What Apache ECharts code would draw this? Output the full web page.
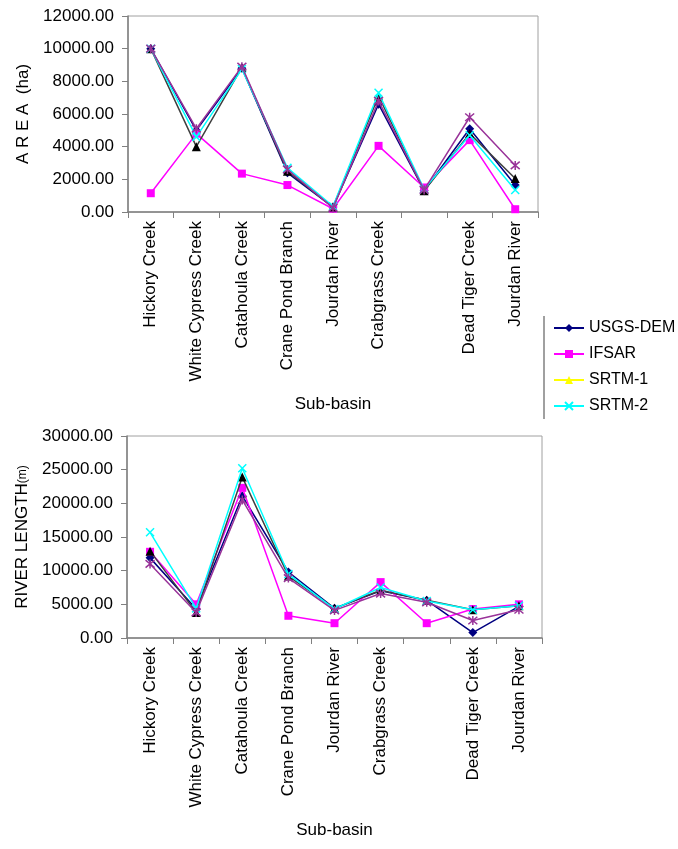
<!DOCTYPE html>
<html><head><meta charset="utf-8">
<script src="https://cdn.jsdelivr.net/npm/echarts@6/dist/echarts.min.js"></script>
<style>html,body{margin:0;padding:0;background:#fff}#c{width:678px;height:849px}</style>
</head><body><div id="c"></div>
<script>
var categories = ['Hickory Creek','White Cypress Creek','Catahoula Creek','Crane Pond Branch','Jourdan River','Crabgrass Creek','','Dead Tiger Creek','Jourdan River'];
var areaTicks = [0, 2000, 4000, 6000, 8000, 10000, 12000];
var lengthTicks = [0, 5000, 10000, 15000, 20000, 25000, 30000];
var seriesNames = ['USGS-DEM','IFSAR','SRTM-1','SRTM-2','Series5'];
// AREA (ha)
var areaUSGS  = [10000, 5000, 8800, 2400, 300, 6600, 1300, 5100, 1650];
var areaIFSAR = [1150, 4800, 2350, 1650, 200, 4050, 1500, 4400, 170];
var areaSRTM1 = [10000, 4000, 8850, 2500, 300, 7100, 1300, 4800, 2050];
var areaSRTM2 = [10000, 4600, 8750, 2700, 350, 7300, 1400, 4700, 1350];
var areaS5    = [10000, 5100, 8900, 2600, 250, 6800, 1350, 5800, 2850];
// RIVER LENGTH (m)
var lenUSGS  = [11900, 4300, 21100, 9800, 4400, 7000, 5600, 800, 4700];
var lenIFSAR = [12800, 5000, 22300, 3300, 2200, 8300, 2200, 4300, 5000];
var lenSRTM1 = [12900, 3800, 23900, 9200, 4400, 7100, 5600, 4200, 4800];
var lenSRTM2 = [15700, 4400, 25200, 9500, 4300, 7500, 5500, 4200, 4800];
var lenS5    = [11000, 3800, 20500, 8900, 4100, 6600, 5300, 2600, 4200];

var FONT = '"Liberation Sans", Arial, sans-serif';
var X_SYM = 'path://M0,0L10,10M10,0L0,10';
var AST_SYM = 'path://M0,0L10,10M10,0L0,10M5,-1L5,11';

var styles = [
  {color:'#000080', line:'#000080', symbol:'diamond', size:9, stroke:false},
  {color:'#FF00FF', line:'#FF00FF', symbol:'rect', size:8, stroke:false},
  {color:'#000000', line:'#404040', symbol:'triangle', size:9, stroke:false},
  {color:'#00FFFF', line:'#00FFFF', symbol:X_SYM, size:8, stroke:true},
  {color:'#993399', line:'#993399', symbol:AST_SYM, size:9, stroke:true}
];

function mk(name, idx, data, gi){
  var s = styles[idx];
  return {
    type:'line', name:name, data:data, xAxisIndex:gi, yAxisIndex:gi,
    symbol:s.symbol, symbolSize:s.size, showSymbol:true,
    lineStyle:{color:s.line, width:1.5},
    itemStyle: s.stroke ? {color:s.color, borderColor:s.color, borderWidth:1.5} : {color:s.color, borderWidth:0},
    animation:false, z: 2 + idx
  };
}

var axisColor = '#808080';
function xAx(gi){
  return {
    type:'category', gridIndex:gi, data:categories, boundaryGap:true,
    name:'Sub-basin', nameLocation:'middle', nameGap:184,
    nameTextStyle:{fontFamily:FONT, fontSize:17, color:'#000'},
    axisLine:{lineStyle:{color:axisColor, width:1.5}},
    axisTick:{show:true, length:6, alignWithLabel:false, interval:0, lineStyle:{color:axisColor}},
    axisLabel:{rotate:90, interval:0, margin:9, fontFamily:FONT, fontSize:17, color:'#000'},
    splitLine:{show:false}
  };
}
function yAx(gi, ticks, name){
  var n = ticks.length;
  return {
    type:'value', gridIndex:gi, min:ticks[0], max:ticks[n-1], interval:ticks[1]-ticks[0],
    name:name, nameLocation:'middle', nameGap:96, nameRotate:90,
    nameTextStyle:{fontFamily:FONT, fontSize:17, color:'#000', rich:{s:{fontFamily:FONT, fontSize:12, color:'#000'}}},
    axisLine:{show:true, lineStyle:{color:axisColor, width:1.5}},
    axisTick:{show:true, length:6, inside:false, lineStyle:{color:axisColor}},
    axisLabel:{margin:14, fontFamily:FONT, fontSize:17, color:'#000', formatter:function(v){return v.toFixed(2);}},
    splitLine:{show:false}
  };
}

var chart = echarts.init(document.getElementById('c'), null, {renderer:'canvas'});
chart.setOption({
  backgroundColor:'#ffffff',
  animation:false,
  grid:[
    {left:128, top:16, width:410, height:196, show:true, borderColor:'#a0a0a0', borderWidth:1, backgroundColor:'#fff'},
    {left:127, top:436, width:415, height:202, show:true, borderColor:'#a0a0a0', borderWidth:1, backgroundColor:'#fff'}
  ],
  legend:{
    orient:'vertical', left:548, top:315, itemWidth:30, itemHeight:10, itemGap:10,
    textStyle:{fontFamily:FONT, fontSize:16, color:'#000', lineHeight:10},
    data:[
      {name:'USGS-DEM'},
      {name:'IFSAR'},
      {name:'SRTM-1', itemStyle:{color:'#FFFF00'}, lineStyle:{color:'#FFFF00'}},
      {name:'SRTM-2'}
    ],
    selectedMode:false
  },
  xAxis:[xAx(0), xAx(1)],
  yAxis:[yAx(0, areaTicks, 'A R E A  (ha)'), yAx(1, lengthTicks, 'RIVER LENGTH{s|(m)}')],
  graphic:[
    {type:'line', shape:{x1:544, y1:316, x2:544, y2:419}, style:{stroke:'#808080', lineWidth:1.5}}
  ],
  series:[
    mk(seriesNames[0],0,areaUSGS,0), mk(seriesNames[1],1,areaIFSAR,0), mk(seriesNames[2],2,areaSRTM1,0), mk(seriesNames[3],3,areaSRTM2,0), mk(seriesNames[4],4,areaS5,0),
    mk(seriesNames[0],0,lenUSGS,1), mk(seriesNames[1],1,lenIFSAR,1), mk(seriesNames[2],2,lenSRTM1,1), mk(seriesNames[3],3,lenSRTM2,1), mk(seriesNames[4],4,lenS5,1)
  ]
});
</script></body></html>
